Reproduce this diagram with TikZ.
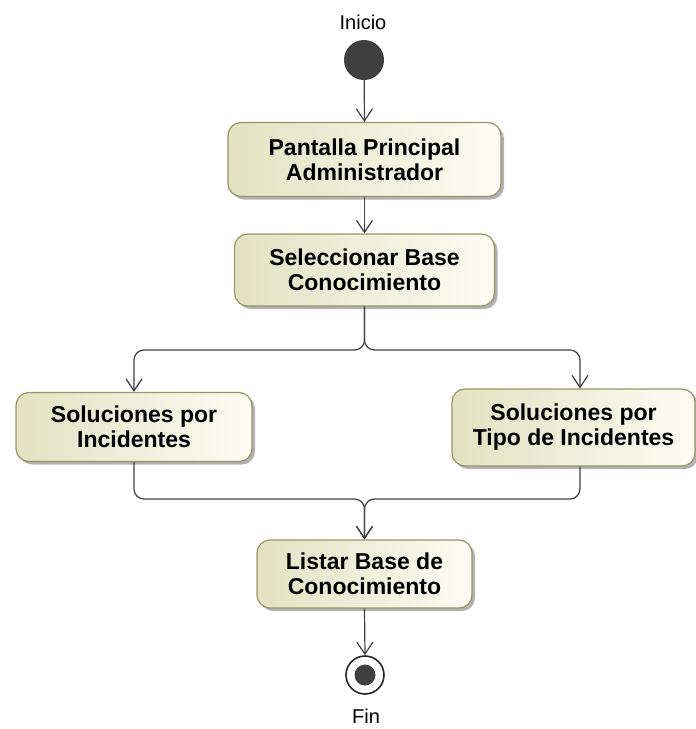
\documentclass[tikz,border=0pt]{standalone}
\usepackage{fontspec}
\setmainfont{Liberation Sans}
\usetikzlibrary{arrows.meta,shadows}
\definecolor{boxl}{RGB}{226,226,194}
\definecolor{boxr}{RGB}{252,252,244}
\definecolor{boxd}{RGB}{150,150,100}
\definecolor{ln}{RGB}{64,64,64}
\begin{document}
\begin{tikzpicture}[x=1pt,y=-1pt,
  act/.style={draw=boxd, line width=1.2pt, rounded corners=13pt,
    left color=boxl, right color=boxr, align=center,
    font=\fontsize{23}{25}\selectfont\bfseries, inner sep=0pt,
    drop shadow={shadow xshift=3pt, shadow yshift=-3pt, fill=black!30, opacity=1}},
  flow/.style={draw=ln, line width=1.2pt, rounded corners=10pt,
    -{Straight Barb[length=12pt,width=16pt,line width=1.2pt]}},
  lbl/.style={font=\fontsize{20}{22}\selectfont, text=black}]
\useasboundingbox (0,0) rectangle (696,729);

\node[lbl] (inicio) at (363,22) {Inicio};
\node[circle, fill=ln, minimum size=40pt, inner sep=0pt] (start) at (364,60) {};

\node[act, minimum width=273pt, minimum height=74pt] (b1) at (364.5,159.5) {Pantalla Principal\\Administrador};
\node[act, minimum width=260pt, minimum height=72pt] (b2) at (364.5,270) {Seleccionar Base\\Conocimiento};
\node[act, minimum width=236pt, minimum height=69pt] (b3) at (134,427) {Soluciones por\\Incidentes};
\node[act, minimum width=243pt, minimum height=77pt] (b4) at (573.5,427.5) {Soluciones por\\Tipo de Incidentes};
\node[act, minimum width=215pt, minimum height=68pt] (b5) at (364.5,574) {Listar Base de\\Conocimiento};

\node[circle, draw=black!85, line width=1.6pt, fill=white, minimum size=38pt, inner sep=0pt] (fin) at (365,675) {};
\fill[ln] (fin.center) circle (10.5pt);
\node[lbl] (fintxt) at (366,716) {Fin};

\coordinate (fy) at (0,350);
\coordinate (my) at (0,499);
\coordinate (rx) at (580,0);

\draw[flow] (start) -- (b1.north);
\draw[flow] (b1.south) -- (b2.north);
\draw[flow] (b2.south) -- (b2.south |- fy) -| (b3.north);
\draw[flow] (b2.south) -- (b2.south |- fy) -| (b4.north -| rx);
\draw[flow] (b3.south) |- (b5.north |- my) -- (b5.north);
\draw[flow] (b4.south -| rx) |- (b5.north |- my) -- (b5.north);
\draw[flow] (b5.south) -- (fin.north);
\end{tikzpicture}
\end{document}
